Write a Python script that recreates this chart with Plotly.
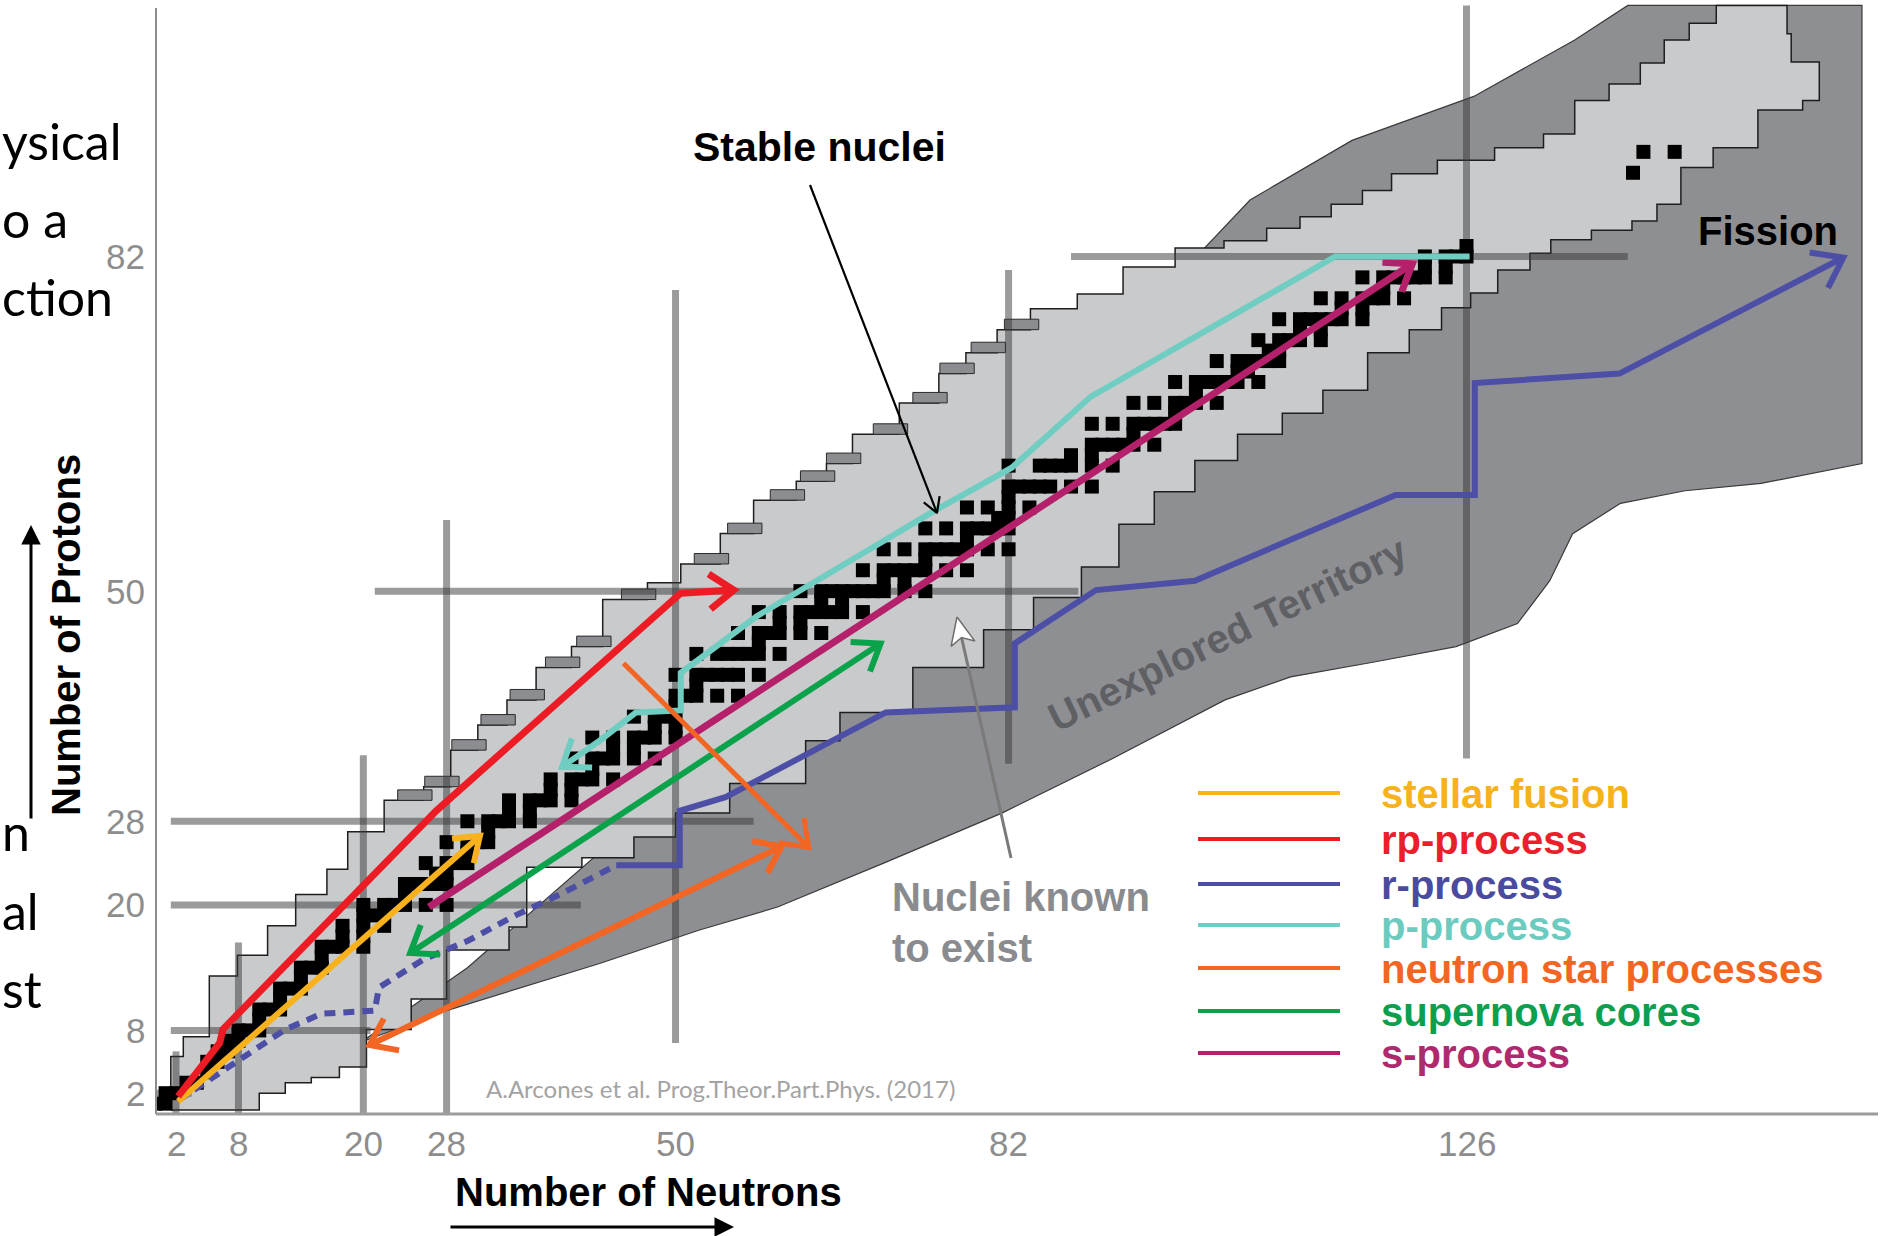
import math
import plotly.graph_objects as go

# ------------------------------------------------------------------ data
neutron_ticks = [2, 8, 20, 28, 50, 82, 126]
proton_ticks = [2, 8, 20, 28, 50, 82]

# magic-number bands (vertical: N = const, horizontal: Z = const)
magic_v_N = [2, 8, 20, 28, 50, 82, 126]
magic_v_Zlo = [0.0, 0.0, 0.0, 0.0, 6.8, 33.5, 34.0]
magic_v_Zhi = [6.0, 16.4, 34.3, 56.8, 78.8, 80.7, 106.0]
magic_h_Z = [2, 8, 20, 28, 50, 82]
magic_h_Nlo = [0.0, 1.5, 1.5, 1.5, 21.1, 88.0]
magic_h_Nhi = [3.5, 20.7, 40.9, 57.5, 88.7, 141.5]

# stable nuclei: proton number and the neutron numbers of its stable isotopes
stable_Z = [1, 2, 3, 4, 5, 6, 7, 8, 9, 10,
            11, 12, 13, 14, 15, 16, 17, 18, 19, 20,
            21, 22, 23, 24, 25, 26, 27, 28, 29, 30,
            31, 32, 33, 34, 35, 36, 37, 38, 39, 40,
            41, 42, 44, 45, 46, 47, 48, 49, 50, 51,
            52, 53, 54, 55, 56, 57, 58, 59, 60, 62,
            63, 64, 65, 66, 67, 68, 69, 70, 71, 72,
            73, 74, 75, 76, 77, 78, 79, 80, 81, 82,
            83, 90, 92]
stable_N = [[0, 1], [1, 2], [3, 4], [5], [5, 6], [6, 7], [7, 8], [8, 9, 10], [10], [10, 11, 12],
            [12], [12, 13, 14], [14], [14, 15, 16], [16], [16, 17, 18, 20], [18, 20], [18, 20, 22], [20, 21, 22], [20, 22, 23, 24, 26, 28],
            [24], [24, 25, 26, 27, 28], [27, 28], [26, 28, 29, 30], [30], [28, 30, 31, 32], [32], [30, 32, 33, 34, 36], [34, 36], [34, 36, 37, 38, 40],
            [38, 40], [38, 40, 41, 42, 44], [42], [40, 42, 43, 44, 46, 48], [44, 46], [42, 44, 46, 47, 48, 50], [48, 50], [46, 48, 49, 50], [50], [50, 51, 52, 54, 56],
            [52], [50, 52, 53, 54, 55, 56, 58], [52, 54, 55, 56, 57, 58, 60], [58], [56, 58, 59, 60, 62, 64], [60, 62], [58, 60, 62, 63, 64, 65, 66, 68], [64, 66], [62, 64, 65, 66, 67, 68, 69, 70, 72, 74], [70, 72],
            [68, 70, 71, 72, 73, 74, 76, 78], [74], [70, 72, 74, 75, 76, 77, 78, 80, 82], [78], [74, 76, 78, 79, 80, 81, 82], [81, 82], [78, 80, 82, 84], [82], [82, 83, 84, 85, 86, 88, 90], [82, 85, 86, 87, 88, 90, 92],
            [88, 90], [90, 91, 92, 93, 94, 96], [94], [90, 92, 94, 95, 96, 97, 98], [98], [94, 96, 98, 99, 100, 102], [100], [98, 100, 101, 102, 103, 104, 106], [104, 105], [102, 104, 105, 106, 107, 108],
            [107, 108], [106, 108, 109, 110, 112], [110, 112], [108, 110, 111, 112, 113, 114, 116], [114, 116], [112, 114, 116, 117, 118, 120], [118], [116, 118, 119, 120, 121, 122, 124], [122, 124], [122, 124, 125, 126],
            [126], [142], [143, 146]]

# nuclei known to exist: proton-rich (upper-left) and neutron-rich (lower-right) edges
known_ul_N = [1.5, 2.7, 5.2, 7.9, 10.8, 13.5, 16.5, 18.5, 22.0, 25.8, 28.4, 31.0, 33.8, 36.6, 40.0, 43.0,
              47.3, 50.5, 54.3, 57.5, 61.6, 64.5, 67.0, 71.5, 75.3, 77.9, 80.9, 84.1, 88.6, 93.0, 98.0,
              102.7, 106.8, 110.0, 113.0, 116.0, 118.8, 123.2, 128.7, 133.4, 136.4, 139.7, 142.7, 145.0,
              147.4, 150.0, 152.8]
known_ul_Z = [0.4, 5.5, 7.4, 13.2, 15.2, 18.0, 21.0, 23.4, 27.0, 30.0, 31.3, 34.8, 37.2, 39.6, 42.7, 44.7,
              49.2, 50.8, 52.6, 55.5, 58.7, 60.5, 62.2, 65.0, 68.0, 70.8, 72.8, 75.0, 77.0, 78.4, 81.0,
              82.8, 83.5, 84.7, 85.8, 87.0, 88.3, 89.9, 91.2, 92.4, 93.7, 96.9, 98.5, 100.5,
              102.7, 104.3, 106.0]
known_lr_N = [7.4, 10.0, 12.5, 15.0, 17.7, 20.3, 24.6, 28.0, 34.0, 35.7, 41.0, 46.0, 50.0, 55.2, 62.5,
              65.8, 72.8, 79.6, 84.4, 89.0, 92.6, 96.0, 99.9, 104.0, 108.3, 112.2, 116.5, 120.5, 123.6,
              126.4, 129.0, 132.1, 134.1, 138.0, 141.9, 144.3, 146.6, 149.7, 154.0, 158.3, 159.9,
              157.2, 156.8]
known_lr_Z = [0.4, 2.0, 3.0, 3.5, 4.5, 8.1, 11.0, 15.7, 17.9, 23.6, 24.5, 26.5, 28.8, 31.6, 35.7,
              38.4, 42.7, 46.3, 49.4, 52.3, 56.4, 59.5, 62.5, 65.0, 67.0, 69.2, 72.8, 75.0, 77.1,
              78.5, 80.7, 82.3, 83.6, 84.5, 85.4, 87.0, 90.5, 92.4, 96.0, 96.9, 100.6,
              103.3, 106.0]

# proton-drip ledges (left end N, bottom Z)
ledge_N = [23.3, 25.9, 28.5, 31.3, 34.1, 37.5, 40.5, 44.8, 51.8, 55.0, 59.1, 62.0, 64.5, 69.0, 72.8, 75.4, 78.4, 81.6]
ledge_Z = [30.0, 31.3, 34.8, 37.2, 39.6, 42.7, 44.7, 49.2, 52.6, 55.5, 58.7, 60.5, 62.2, 65.0, 68.0, 70.8, 72.8, 75.0]

# unexplored territory outline
unexpl_N = [19.8, 28.0, 42.7, 52.3, 59.8, 70.0, 81.4, 92.0, 102.8, 109.1, 117.0, 125.0, 130.9, 134.0, 136.2,
            140.8, 147.0, 154.3, 164.0, 164.0, 141.5, 136.4, 126.7, 115.0, 105.2, 99.4, 90.0, 60.0, 30.0]
unexpl_Z = [6.9, 9.9, 14.4, 17.6, 19.8, 24.0, 28.8, 34.0, 39.6, 41.8, 43.2, 44.7, 46.9, 51.0, 55.5,
            58.4, 59.6, 60.3, 62.2, 106.0, 106.0, 102.7, 97.3, 93.1, 87.4, 81.3, 70.0, 40.0, 14.0]

# process paths
stellar_N = [2.2, 31.2]
stellar_Z = [1.2, 26.6]
rp_N = [2.2, 6.2, 6.5, 27.0, 50.5, 55.6]
rp_Z = [1.7, 6.8, 8.1, 29.0, 49.8, 50.1]
r_dot_N = [2.2, 6.5, 12.5, 16.0, 21.1, 21.5, 25.8, 30.1, 34.4, 39.1, 44.3]
r_dot_Z = [1.3, 4.2, 8.1, 9.6, 9.9, 12.1, 14.8, 16.6, 18.9, 21.1, 23.8]
r_N = [44.3, 50.4, 50.4, 54.8, 70.2, 82.6, 82.6, 90.4, 99.9, 119.2, 126.8, 126.8, 140.7, 162.2]
r_Z = [23.8, 23.8, 29.0, 30.3, 38.4, 38.9, 45.0, 50.1, 51.0, 59.2, 59.2, 69.9, 70.8, 81.9]
p_N = [126.3, 113.4, 89.9, 82.3, 74.9, 57.8, 50.5, 50.5, 46.2, 42.7, 39.1]
p_Z = [82.0, 82.0, 68.6, 61.8, 57.7, 47.6, 42.2, 38.6, 38.4, 35.7, 33.2]
ns1_N = [45.0, 62.8]
ns1_Z = [43.1, 25.5]
ns2_N = [20.6, 60.2]
ns2_Z = [6.6, 25.6]
sn_N = [24.5, 69.7]
sn_Z = [15.4, 45.0]
s_N = [26.3, 120.8]
s_Z = [19.8, 81.3]

legend_labels = ["stellar fusion", "rp-process", "r-process", "p-process",
                 "neutron star processes", "supernova cores", "s-process"]
legend_colors = ["#f9b21b", "#ed1c24", "#4d4ea6", "#6fcdc1", "#f26522", "#0aa24b", "#b5206b"]
legend_text_colors = ["#f7b21b", "#ea1f2b", "#4a4a9e", "#6ccbbf", "#f26522", "#0c9f4e", "#b0296d"]

# fragments of slide text visible at the left edge
slide_fragments = ["ysical", "o a", "ction", "n", "al", "st"]

# ------------------------------------------------------------------ geometry
W, H = 1888, 1236
ML, MR, MT, MB = 157, 10, 0, 122
PW, PH = W - ML - MR, H - MT - MB
XR = [0.174, 165.54]
YR = [0.01, 106.52]
SX = PW / (XR[1] - XR[0])
SY = PH / (YR[1] - YR[0])


def px2n(px):
    return XR[0] + (px - ML) / SX


def py2z(py):
    return YR[0] + (MT + PH - py) / SY


def pxp(px):
    return (px - ML) / PW


def pyp(py):
    return 1 - (py - MT) / PH


def chevron(n0, z0, n1, z1, L=30, ang=36):
    dx = (n1 - n0) * SX
    dy = (z1 - z0) * SY
    d = math.hypot(dx, dy)
    ux, uy = dx / d, dy / d
    xs, ys = [], []
    for s in (1, -1):
        a = math.radians(180 + s * ang)
        rx = ux * math.cos(a) - uy * math.sin(a)
        ry = ux * math.sin(a) + uy * math.cos(a)
        xs.append(n1 + rx * L / SX)
        ys.append(z1 + ry * L / SY)
    return [xs[0], n1, xs[1]], [ys[0], z1, ys[1]]


fig = go.Figure()


def add_line(x, y, color, width, dash=None):
    fig.add_trace(go.Scatter(x=x, y=y, mode="lines",
                             line=dict(color=color, width=width, dash=dash),
                             hoverinfo="skip", showlegend=False))


# unexplored territory
fig.add_trace(go.Scatter(x=unexpl_N + [unexpl_N[0]], y=unexpl_Z + [unexpl_Z[0]],
                         mode="lines", fill="toself", fillcolor="#8e8f93",
                         line=dict(color="#3a3a3a", width=1.2),
                         hoverinfo="skip", showlegend=False))

# nuclei known to exist (staircase)
ul_x, ul_y = [known_ul_N[0]], [known_ul_Z[0]]
for i in range(len(known_ul_N) - 1):
    ul_x += [known_ul_N[i], known_ul_N[i + 1]]
    ul_y += [known_ul_Z[i + 1], known_ul_Z[i + 1]]
lr_x, lr_y = [known_lr_N[0]], [known_lr_Z[0]]
for i in range(len(known_lr_N) - 1):
    lr_x += [known_lr_N[i + 1], known_lr_N[i + 1]]
    lr_y += [known_lr_Z[i], known_lr_Z[i + 1]]
kx = ul_x + lr_x[::-1] + [ul_x[0]]
ky = ul_y + lr_y[::-1] + [ul_y[0]]
fig.add_trace(go.Scatter(x=kx, y=ky, mode="lines", fill="toself", fillcolor="#c9cacc",
                         line=dict(color="#1e1e1e", width=1.5),
                         hoverinfo="skip", showlegend=False))

# ledges
lx, ly = [], []
for n, z in zip(ledge_N, ledge_Z):
    lx += [n, n + 3.3, n + 3.3, n, n, None]
    ly += [z, z, z + 1.0, z + 1.0, z, None]
fig.add_trace(go.Scatter(x=lx, y=ly, mode="lines", fill="toself", fillcolor="#8c8d90",
                         line=dict(color="#2a2a2a", width=1),
                         hoverinfo="skip", showlegend=False))

# magic number bands
MAGIC = "rgba(55,55,55,0.5)"
for n, z0, z1 in zip(magic_v_N, magic_v_Zlo, magic_v_Zhi):
    add_line([n, n], [z0, z1], MAGIC, 7)
for z, n0, n1 in zip(magic_h_Z, magic_h_Nlo, magic_h_Nhi):
    add_line([n0, n1], [z, z], MAGIC, 7)

# stable nuclei
sx_, sy_ = [], []
for z, ns in zip(stable_Z, stable_N):
    for n in ns:
        sx_.append(n)
        sy_.append(z)
fig.add_trace(go.Scatter(x=sx_, y=sy_, mode="markers",
                         marker=dict(symbol="square", size=14, color="black", line=dict(width=0)),
                         hoverinfo="skip", showlegend=False))


def add_path(Ns, Zs, color, width=6, head_end=True, head_start=False, dash=None, L=30):
    add_line(Ns, Zs, color, width, dash)
    if head_end:
        cx, cy = chevron(Ns[-2], Zs[-2], Ns[-1], Zs[-1], L=L)
        add_line(cx, cy, color, width)
    if head_start:
        cx, cy = chevron(Ns[1], Zs[1], Ns[0], Zs[0], L=L)
        add_line(cx, cy, color, width)


C = dict(zip(legend_labels, legend_colors))
add_path(r_dot_N, r_dot_Z, C["r-process"], 6, head_end=False, dash="11px,8px")
add_path(r_N, r_Z, C["r-process"], 6, L=34)
add_path(ns2_N, ns2_Z, C["neutron star processes"], 6, head_start=True)
add_path(sn_N, sn_Z, C["supernova cores"], 6, head_start=True)
add_path(stellar_N, stellar_Z, C["stellar fusion"], 6, L=28)
add_path(s_N, s_Z, C["s-process"], 7)
add_path(p_N, p_Z, C["p-process"], 6)
add_path(ns1_N, ns1_Z, C["neutron star processes"], 5)
add_path(rp_N, rp_Z, C["rp-process"], 7)

# pointer: stable nuclei
sp_n = [px2n(810), px2n(937)]
sp_z = [py2z(185), py2z(513)]
add_line(sp_n, sp_z, "black", 2.2)
cx, cy = chevron(sp_n[0], sp_z[0], sp_n[1], sp_z[1], L=17, ang=30)
add_line(cx, cy, "black", 2.2)

# pointer: nuclei known to exist (cursor style arrow)
bx, by, tx, ty = 1011, 858, 957, 617
add_line([px2n(bx), px2n(tx + 4)], [py2z(by), py2z(ty + 18)], "#7a7a7a", 3)
dx, dy = tx - bx, ty - by
d = math.hypot(dx, dy)
ux, uy = -dx / d, -dy / d
pts = [(tx, ty)]
for s in (1, -1):
    a = math.radians(s * 24)
    rx = ux * math.cos(a) - uy * math.sin(a)
    ry = ux * math.sin(a) + uy * math.cos(a)
    pts.append((tx + rx * 30, ty + ry * 30))
notch = (tx + ux * 21, ty + uy * 21)
poly = [pts[0], pts[1], notch, pts[2], pts[0]]
fig.add_trace(go.Scatter(x=[px2n(p[0]) for p in poly], y=[py2z(p[1]) for p in poly],
                         mode="lines", fill="toself", fillcolor="white",
                         line=dict(color="#6e6e6e", width=1.5),
                         hoverinfo="skip", showlegend=False))

# ------------------------------------------------------------------ layout
BOLD = "Liberation Sans, Arial, sans-serif"
ann = []
TICKC = "#8d8d8d"
for t in neutron_ticks:
    ann.append(dict(x=t, y=pyp(1143), xref="x", yref="paper", text=str(t), showarrow=False,
                    xanchor="center", yanchor="middle",
                    font=dict(family=BOLD, size=35, color=TICKC)))
for t in proton_ticks:
    ann.append(dict(x=pxp(147), y=t, xref="paper", yref="y", text=str(t), showarrow=False,
                    xanchor="right", yanchor="middle",
                    font=dict(family=BOLD, size=35, color=TICKC)))


def txt(x, y, s, size, color, weight="bold", xanchor="center", angle=0, family=BOLD):
    ann.append(dict(x=pxp(x), y=pyp(y), xref="paper", yref="paper", text=s, showarrow=False,
                    xanchor=xanchor, yanchor="middle", textangle=angle,
                    font=dict(family=family, size=size, color=color, weight=weight)))


txt(819, 147, "Stable nuclei", 41, "black")
txt(1768, 231, "Fission", 40, "black")
txt(890, 897, "Nuclei known", 40, "#8a8b8e", xanchor="left")
txt(890, 948, "to exist", 40, "#8a8b8e", xanchor="left")
txt(1227, 634, "Unexplored Territory", 40, "#5f6064", angle=-26)
txt(648, 1192, "Number of Neutrons", 40, "black")
txt(66, 635, "Number of Protons", 40, "black", angle=-90)
txt(484, 1088, "A.Arcones et al. Prog.Theor.Part.Phys. (2017)", 24, "#a3a3a3",
    weight="normal", xanchor="left", family="Lato, sans-serif")

# slide text fragments at the left edge
for s, yc in zip(slide_fragments, [141, 219, 297, 832, 911, 989]):
    txt(0, yc, s, 50, "black", weight="normal", xanchor="left", family="Lato, sans-serif")

# axis arrows
ann.append(dict(x=pxp(734), y=pyp(1227), xref="paper", yref="paper", text="", showarrow=True,
                ax=-285, ay=0, arrowhead=2, arrowsize=1.3, arrowwidth=3, arrowcolor="black"))
ann.append(dict(x=pxp(31), y=pyp(525), xref="paper", yref="paper", text="", showarrow=True,
                ax=0, ay=295, arrowhead=2, arrowsize=1.3, arrowwidth=3, arrowcolor="black"))

# legend
shapes = []
leg_y = [793, 839, 884, 925, 968, 1011, 1053]
for lab, col, tcol, yy in zip(legend_labels, legend_colors, legend_text_colors, leg_y):
    shapes.append(dict(type="line", xref="paper", yref="paper", x0=pxp(1198), x1=pxp(1340),
                       y0=pyp(yy), y1=pyp(yy), line=dict(color=col, width=4)))
    txt(1379, yy + 1, lab, 40, tcol, xanchor="left")

# axis lines
shapes.append(dict(type="line", xref="paper", yref="paper", x0=pxp(156), x1=pxp(156),
                   y0=pyp(1114), y1=pyp(8), line=dict(color="#6f6f6f", width=1.6)))
shapes.append(dict(type="line", xref="paper", yref="paper", x0=pxp(156), x1=pxp(1878),
                   y0=pyp(1114), y1=pyp(1114), line=dict(color="#9c9c9c", width=3)))

fig.update_layout(
    width=W, height=H,
    margin=dict(l=ML, r=MR, t=MT, b=MB),
    paper_bgcolor="white", plot_bgcolor="white",
    showlegend=False,
    xaxis=dict(range=XR, visible=False, showgrid=False, zeroline=False),
    yaxis=dict(range=YR, visible=False, showgrid=False, zeroline=False),
    annotations=ann, shapes=shapes,
)

fig.write_html("out.html", config={"displayModeBar": False},
               post_script="document.body.style.margin='0px';")
